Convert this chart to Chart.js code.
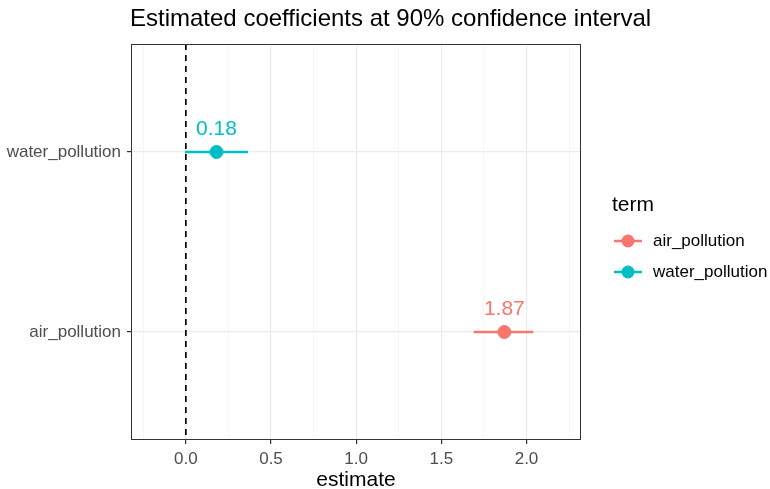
<!DOCTYPE html>
<html>
<head>
<meta charset="utf-8">
<script src="https://cdn.jsdelivr.net/npm/chart.js@4"></script>
<style>
  html, body { margin: 0; padding: 0; background: #fff; }
  #wrap { width: 770px; height: 489px; }
</style>
</head>
<body>
<div id="wrap"><canvas id="coefChart" width="770" height="489"></canvas></div>
<script>
const terms = ["air_pollution", "water_pollution"];
const estimates = [1.87, 0.18];
const lowerCI = [1.69, -0.005];
const upperCI = [2.04, 0.365];
const termColors = ["#F8766D", "#00BFC4"];
const majorTicks = [0, 0.5, 1, 1.5, 2];
const minorTicks = [-0.25, 0.25, 0.75, 1.25, 1.75, 2.25];

const FONT = "'Liberation Sans', Arial, Helvetica, sans-serif";
const ctx = document.getElementById("coefChart").getContext("2d");

const datasets = [];
terms.forEach((t, i) => {
    // interval line
    datasets.push({
        label: t + "_ci",
        data: [{ x: lowerCI[i], y: i + 1 }, { x: upperCI[i], y: i + 1 }],
        showLine: true,
        borderColor: termColors[i],
        borderWidth: 2.5,
        pointRadius: 0
    });
    // point estimate
    datasets.push({
        label: t,
        data: [{ x: estimates[i], y: i + 1 }],
        backgroundColor: termColors[i],
        borderColor: termColors[i],
        pointRadius: 6.5,
        pointHoverRadius: 6.5
    });
});

const extras = {
    id: "extras",
    beforeDatasetsDraw(chart) {
        const c = chart.ctx, a = chart.chartArea;
        const x0 = chart.scales.x.getPixelForValue(0);
        c.save();
        c.strokeStyle = "#000";
        c.lineWidth = 1.7;
        c.setLineDash([6, 5]);
        c.beginPath();
        c.moveTo(x0, a.top);
        c.lineTo(x0, a.bottom);
        c.stroke();
        c.restore();
    },
    afterDraw(chart) {
        const c = chart.ctx, a = chart.chartArea;
        const xs = chart.scales.x, ys = chart.scales.y;
        c.save();
        // panel border
        c.strokeStyle = "#333";
        c.lineWidth = 1;
        c.strokeRect(a.left + 0.5, a.top + 0.5, a.right - a.left - 1, a.bottom - a.top - 1);

        // value labels
        c.font = "21px " + FONT;
        c.textAlign = "center";
        c.textBaseline = "middle";
        terms.forEach((t, i) => {
            c.fillStyle = termColors[i];
            c.fillText(estimates[i].toFixed(2), xs.getPixelForValue(estimates[i]), ys.getPixelForValue(i + 1) - 23);
        });

        // title
        c.fillStyle = "#000";
        c.textAlign = "left";
        c.font = "24px " + FONT;
        c.fillText("Estimated coefficients at 90% confidence interval", a.left - 1, 19);

        // legend
        const lx = 614;
        c.font = "21px " + FONT;
        c.fillText("term", lx - 2, 205);
        c.font = "17px " + FONT;
        terms.forEach((t, i) => {
            const ly = 241 + i * 31;
            c.strokeStyle = termColors[i];
            c.lineWidth = 2.5;
            c.beginPath();
            c.moveTo(lx, ly);
            c.lineTo(lx + 28, ly);
            c.stroke();
            c.fillStyle = termColors[i];
            c.beginPath();
            c.arc(lx + 14, ly, 6.5, 0, Math.PI * 2);
            c.fill();
            c.fillStyle = "#000";
            c.fillText(t, lx + 39, ly);
        });
        c.restore();
    }
};

new Chart(ctx, {
    type: "scatter",
    data: { datasets },
    options: {
        responsive: false,
        animation: false,
        layout: { padding: { top: 44, right: 189, left: 0, bottom: 0 } },
        plugins: {
            legend: { display: false },
            tooltip: { enabled: false }
        },
        scales: {
            x: {
                type: "linear",
                min: -0.322,
                max: 2.32,
                afterBuildTicks: s => {
                    s.ticks = majorTicks.concat(minorTicks).sort((a, b) => a - b).map(v => ({ value: v }));
                },
                afterFit: s => { s.height = 49; },
                grid: {
                    color: c => majorTicks.includes(c.tick.value) ? "#EBEBEB" : "#F2F2F2",
                    lineWidth: c => majorTicks.includes(c.tick.value) ? 1.2 : 0.7,
                    tickColor: c => majorTicks.includes(c.tick.value) ? "#333" : "rgba(0,0,0,0)",
                    tickLength: 4
                },
                border: { display: false },
                ticks: {
                    color: "#4D4D4D",
                    font: { family: FONT, size: 17 },
                    padding: 5,
                    maxRotation: 0,
                    autoSkip: false,
                    callback: v => majorTicks.includes(v) ? v.toFixed(1) : ""
                },
                title: {
                    display: true,
                    text: "estimate",
                    color: "#000",
                    font: { family: FONT, size: 21 },
                    padding: { top: 0, bottom: -4 }
                }
            },
            y: {
                type: "linear",
                min: 0.4,
                max: 2.6,
                afterBuildTicks: s => {
                    s.ticks = terms.map((t, i) => ({ value: i + 1 }));
                },
                afterFit: s => { s.width = 131; },
                grid: {
                    color: "#EBEBEB",
                    lineWidth: 1.2,
                    tickColor: "#333",
                    tickLength: 4
                },
                border: { display: false },
                ticks: {
                    color: "#4D4D4D",
                    font: { family: FONT, size: 17 },
                    padding: 6,
                    autoSkip: false,
                    callback: v => terms[v - 1] || ""
                }
            }
        }
    },
    plugins: [extras]
});
</script>
</body>
</html>
